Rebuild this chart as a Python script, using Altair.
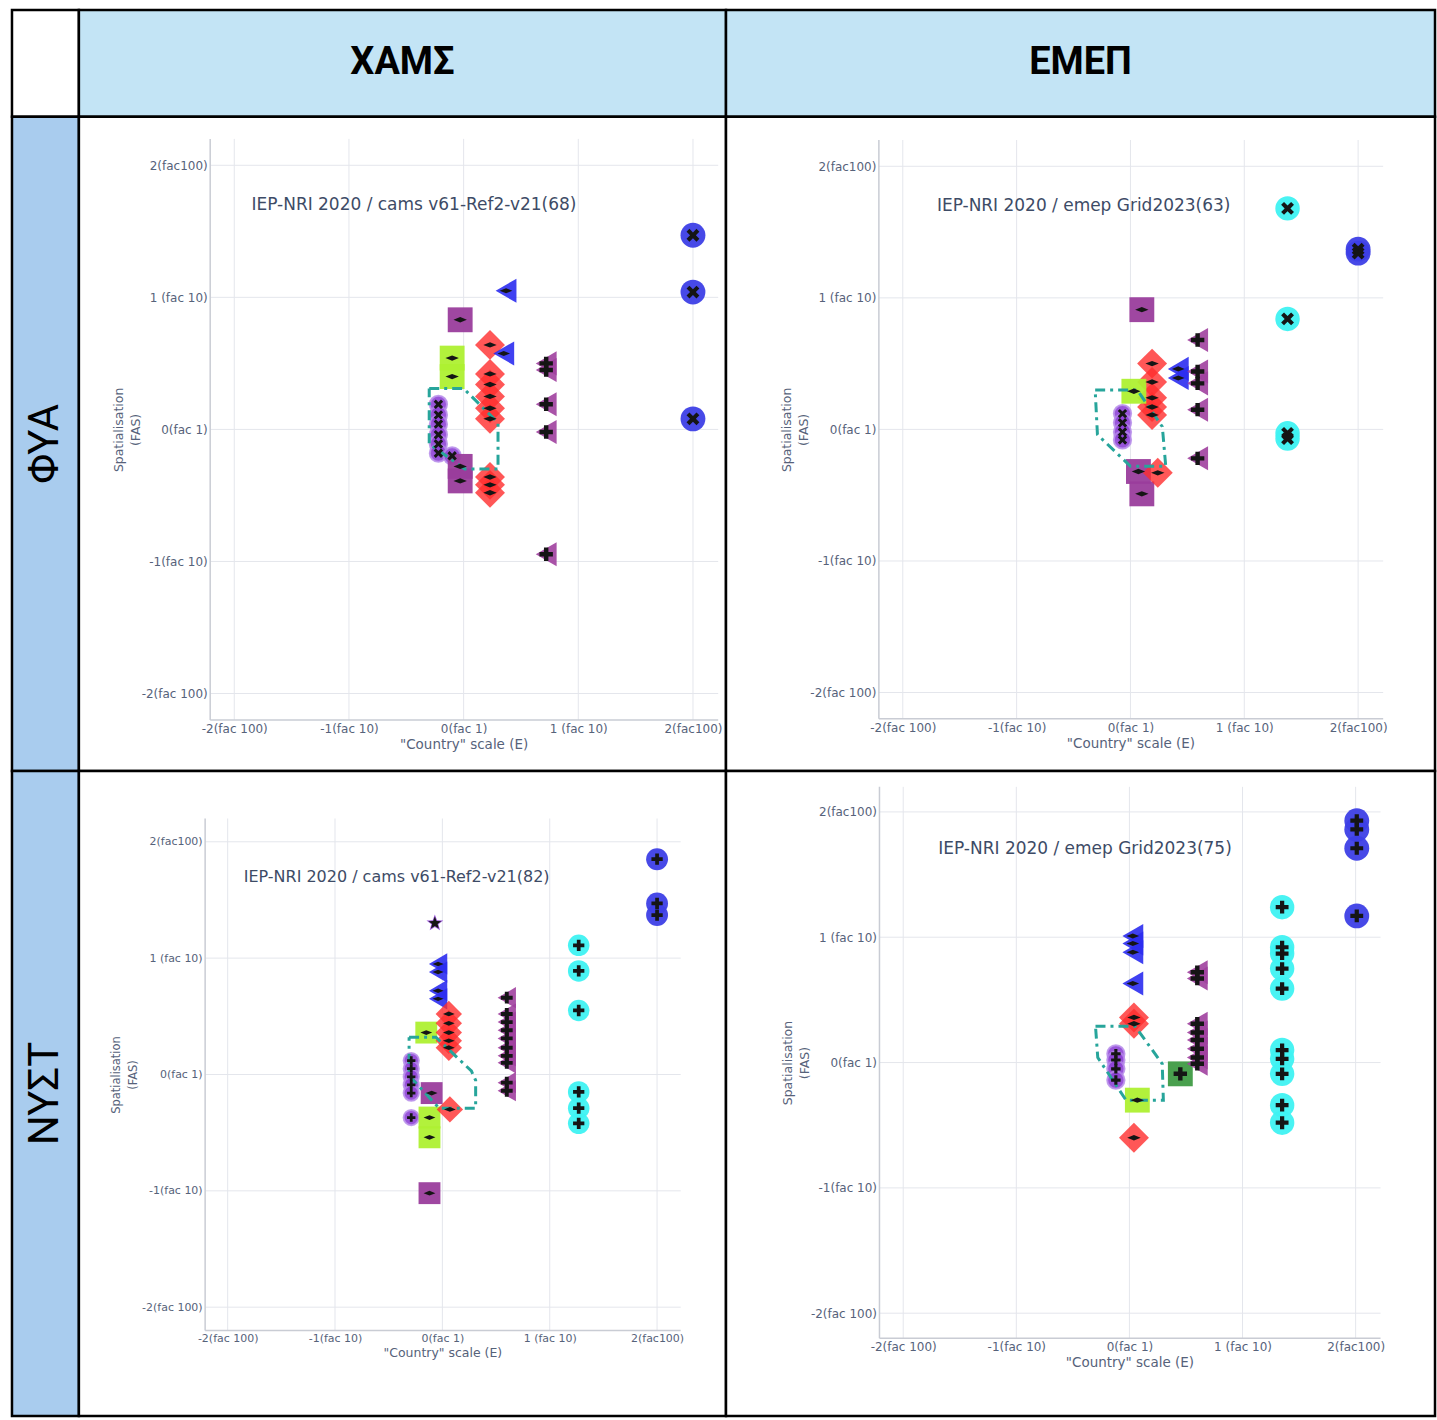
import json
import math
import altair as alt
import pandas as pd

# ------------------------------------------------------------------ data
col_headers = ["ΧΑΜΣ", "ΕΜΕΠ"]
row_headers = ["ΦΥΑ", "ΝΥΣΤ"]
panel_titles = [
    "IEP-NRI 2020 / cams v61-Ref2-v21(68)",
    "IEP-NRI 2020 / emep Grid2023(63)",
    "IEP-NRI 2020 / cams v61-Ref2-v21(82)",
    "IEP-NRI 2020 / emep Grid2023(75)",
]
tick_values = [-2, -1, 0, 1, 2]
tick_labels = ["-2(fac 100)", "-1(fac 10)", "0(fac 1)", "1 (fac 10)", "2(fac100)"]
x_title = '"Country" scale (E)'
y_title = ["Spatialisation", "(FAS)"]

# panel 1 : ΦΥΑ / ΧΑΜΣ
p1_purple_circle = [(-0.22, 0.19), (-0.22, 0.11), (-0.22, 0.04), (-0.22, -0.04), (-0.22, -0.11), (-0.22, -0.18), (-0.10, -0.20)]
p1_purple_square = [(-0.03, 0.83), (-0.03, -0.28), (-0.03, -0.39)]
p1_green_square = [(-0.10, 0.54), (-0.10, 0.40)]
p1_red_diamond = [(0.23, 0.64), (0.23, 0.42), (0.23, 0.34), (0.23, 0.25), (0.23, 0.16), (0.23, 0.08), (0.23, -0.36), (0.23, -0.42), (0.23, -0.48)]
p1_blue_triangle = [(0.37, 1.05), (0.35, 0.575)]
p1_purple_triangle = [(0.72, 0.50), (0.72, 0.45), (0.72, 0.19), (0.72, -0.02), (0.72, -0.945)]
p1_blue_circle = [(2.0, 1.47), (2.0, 1.04), (2.0, 0.08)]
p1_hull = [(-0.30, 0.31), (0.0, 0.31), (0.30, 0.05), (0.30, -0.30), (0.01, -0.30), (-0.30, -0.11), (-0.30, 0.31)]

# panel 2 : ΦΥΑ / ΕΜΕΠ
p2_purple_circle = [(-0.07, 0.12), (-0.07, 0.05), (-0.07, -0.02), (-0.07, -0.08)]
p2_purple_square = [(0.10, 0.91), (0.07, -0.32), (0.10, -0.49)]
p2_green_square = [(0.03, 0.29)]
p2_red_diamond = [(0.19, 0.50), (0.19, 0.36), (0.19, 0.24), (0.19, 0.17), (0.19, 0.11), (0.24, -0.33)]
p2_blue_triangle = [(0.42, 0.46), (0.42, 0.39)]
p2_purple_triangle = [(0.59, 0.68), (0.59, 0.44), (0.59, 0.35), (0.59, 0.15), (0.59, -0.22)]
p2_cyan_circle = [(1.38, 1.68), (1.38, 0.84), (1.38, -0.03), (1.38, -0.07)]
p2_blue_circle = [(2.0, 1.37), (2.0, 1.34)]
p2_hull = [(-0.31, 0.30), (0.06, 0.30), (0.28, 0.02), (0.31, -0.28), (0.0, -0.28), (-0.29, -0.04), (-0.31, 0.30)]

# panel 3 : ΝΥΣΤ / ΧΑΜΣ
p3_star = [(-0.07, 1.30)]
p3_blue_triangle = [(-0.04, 0.95), (-0.04, 0.88), (-0.04, 0.72), (-0.04, 0.65)]
p3_red_diamond = [(0.06, 0.52), (0.06, 0.44), (0.06, 0.36), (0.06, 0.29), (0.06, 0.23), (0.07, -0.30)]
p3_green_square = [(-0.15, 0.36), (-0.12, -0.37), (-0.12, -0.54)]
p3_purple_square = [(-0.10, -0.16), (-0.12, -1.02)]
p3_purple_circle = [(-0.29, 0.12), (-0.29, 0.05), (-0.29, -0.02), (-0.29, -0.09), (-0.29, -0.16), (-0.29, -0.37)]
p3_purple_triangle = [(0.60, 0.66), (0.60, 0.52), (0.60, 0.45), (0.60, 0.38), (0.60, 0.31), (0.60, 0.23), (0.60, 0.16), (0.60, 0.10), (0.60, -0.07), (0.60, -0.14)]
p3_cyan_circle = [(1.27, 1.11), (1.27, 0.89), (1.27, 0.55), (1.27, -0.15), (1.27, -0.29), (1.27, -0.42)]
p3_blue_circle = [(2.0, 1.85), (2.0, 1.47), (2.0, 1.37)]
p3_hull = [(-0.31, 0.32), (-0.06, 0.32), (0.27, 0.03), (0.31, -0.05), (0.31, -0.29), (-0.03, -0.29), (-0.31, -0.01), (-0.31, 0.32)]

# panel 4 : ΝΥΣΤ / ΕΜΕΠ
p4_blue_triangle = [(0.03, 1.01), (0.03, 0.95), (0.03, 0.88), (0.03, 0.63)]
p4_red_diamond = [(0.04, 0.36), (0.04, 0.31), (0.04, -0.60)]
p4_purple_circle = [(-0.12, 0.07), (-0.12, 0.02), (-0.12, -0.05), (-0.12, -0.14)]
p4_green_square = [(0.07, -0.30)]
p4_dark_green_square = [(0.45, -0.09)]
p4_purple_triangle = [(0.60, 0.72), (0.60, 0.67), (0.60, 0.31), (0.60, 0.24), (0.60, 0.18), (0.60, 0.11), (0.60, 0.04), (0.60, -0.01)]
p4_cyan_circle = [(1.35, 1.24), (1.35, 0.92), (1.35, 0.87), (1.35, 0.75), (1.35, 0.59), (1.35, 0.10), (1.35, 0.03), (1.35, -0.09), (1.35, -0.34), (1.35, -0.48)]
p4_blue_circle = [(2.01, 1.93), (2.01, 1.86), (2.01, 1.71), (2.01, 1.17)]
p4_hull = [(-0.30, 0.29), (0.05, 0.29), (0.29, -0.01), (0.30, -0.30), (-0.03, -0.30), (-0.28, 0.04), (-0.30, 0.29)]

# ------------------------------------------------------------------ style
FONT = "DejaVu Sans"
HFONT = "Roboto"
BORDER = dict(stroke="black", strokeWidth=2.5)

_star = []
for k in range(10):
    a = -math.pi / 2 + k * math.pi / 5
    r = 1.0 if k % 2 == 0 else 0.42
    _star.append(f"{r * math.cos(a):.3f},{r * math.sin(a):.3f}")
SHAPES = {
    "circle": "circle",
    "square": "square",
    "diamond": "diamond",
    "triangle-left": "triangle-left",
    "star": "M" + "L".join(_star) + "Z",
    "x": "M-1,-0.55L-0.55,-1L0,-0.45L0.55,-1L1,-0.55L0.45,0L1,0.55L0.55,1L0,0.45L-0.55,1L-1,0.55L-0.45,0Z",
    "cross": "M-0.33,-1L0.33,-1L0.33,-0.33L1,-0.33L1,0.33L0.33,0.33L0.33,1L-0.33,1L-0.33,0.33L-1,0.33L-1,-0.33L-0.33,-0.33Z",
    "wdiamond": "M-1,0L0,-0.4L1,0L0,0.4Z",
}

STYLE = {
    "purple_circle": dict(shape="circle", color="#8f43d6", size=300, opacity=0.9, inner="circ", isize=90,
                          stroke="#b588ea"),
    "purple_square": dict(shape="square", color="#9a3d9c", size=620, opacity=0.95, inner="wdiamond", isize=180),
    "green_square": dict(shape="square", color="#aef032", size=620, opacity=0.95, inner="wdiamond", isize=180),
    "dark_green_square": dict(shape="square", color="#3f9b45", size=620, opacity=0.95, inner="cross", isize=180),
    "red_diamond": dict(shape="diamond", color="#ff2d2d", size=900, opacity=0.8, inner="wdiamond", isize=180),
    "blue_triangle": dict(shape="triangle-left", color="#2b2cf0", size=580, opacity=0.9, inner="wdiamond", isize=160),
    "purple_triangle": dict(shape="triangle-left", color="#a0409e", size=580, opacity=0.9, inner="cross", isize=180),
    "cyan_circle": dict(shape="circle", color="#3ff2f2", size=600, opacity=0.95, inner="circ", isize=165),
    "blue_circle": dict(shape="circle", color="#3d3fe6", size=620, opacity=0.95, inner="circ", isize=165),
    "star": dict(shape="star", color="#9146d6", size=400, opacity=0.9, inner="star", isize=230),
}

PLOT_X = (-2.21, 2.22)
PLOT_Y = (-2.2, 2.2)

COL_W = [67, 648, 710]
ROW_H = [107, 655, 646]

LAYOUT = [
    dict(xdom=(-3.355, 2.288), ydom=(-2.586, 2.367), lfs=12, tfs=13.5, yfs=12.5, afs=17, tdy=29, lpad=4,
         ytx=-92, ann=(-1.85, 1.70), ms=1.0, circ="x"),
    dict(xdom=(-3.553, 2.763), ydom=(-2.596, 2.376), lfs=12, tfs=13.5, yfs=12.5, afs=17, tdy=29, lpad=4,
         ytx=-92, ann=(-1.70, 1.70), ms=1.0, circ="x"),
    dict(xdom=(-3.386, 2.642), ydom=(-3.004, 2.609), lfs=11, tfs=12.5, yfs=11.5, afs=16, tdy=26, lpad=2,
         ytx=-89, ann=(-1.85, 1.70), ms=0.88, circ="cross"),
    dict(xdom=(-3.567, 2.790), ydom=(-2.884, 2.327), lfs=12, tfs=13.5, yfs=12.5, afs=17, tdy=28, lpad=3,
         ytx=-92, ann=(-1.69, 1.70), ms=1.0, circ="cross"),
]

PANEL_SERIES = [
    [("purple_circle", p1_purple_circle), ("green_square", p1_green_square), ("purple_square", p1_purple_square),
     ("red_diamond", p1_red_diamond), ("blue_triangle", p1_blue_triangle), ("purple_triangle", p1_purple_triangle),
     ("blue_circle", p1_blue_circle)],
    [("purple_circle", p2_purple_circle), ("purple_square", p2_purple_square), ("red_diamond", p2_red_diamond),
     ("green_square", p2_green_square), ("blue_triangle", p2_blue_triangle), ("purple_triangle", p2_purple_triangle),
     ("cyan_circle", p2_cyan_circle), ("blue_circle", p2_blue_circle)],
    [("star", p3_star), ("blue_triangle", p3_blue_triangle), ("purple_circle", p3_purple_circle),
     ("purple_square", p3_purple_square), ("green_square", p3_green_square), ("red_diamond", p3_red_diamond),
     ("purple_triangle", p3_purple_triangle), ("cyan_circle", p3_cyan_circle), ("blue_circle", p3_blue_circle)],
    [("blue_triangle", p4_blue_triangle), ("purple_circle", p4_purple_circle), ("red_diamond", p4_red_diamond),
     ("green_square", p4_green_square), ("dark_green_square", p4_dark_green_square),
     ("purple_triangle", p4_purple_triangle), ("cyan_circle", p4_cyan_circle), ("blue_circle", p4_blue_circle)],
]
PANEL_HULLS = [p1_hull, p2_hull, p3_hull, p4_hull]

LABEL_EXPR = f"{json.dumps(tick_labels)}[indexof({json.dumps(tick_values)}, datum.value)]"


def make_panel(i, w, h):
    L = LAYOUT[i]
    xlo, xhi = L["xdom"]
    ylo, yhi = L["ydom"]
    # the measured cell size may differ slightly from w/h: keep the plot area's pixel placement
    xhi = xlo + (xhi - xlo) * w / (648 if i % 2 == 0 else 720)
    ylo = yhi - (yhi - ylo) * h / (655 if i < 2 else 654)

    def px_x(v):
        return (v - xlo) / (xhi - xlo) * w

    def px_y(v):
        return (yhi - v) / (yhi - ylo) * h

    common = dict(values=tick_values, labelExpr=LABEL_EXPR, grid=False, domain=False, ticks=False, tickSize=0,
                  labelFont=FONT, labelFontSize=L["lfs"], labelColor="#56627a", labelOverlap=False,
                  labelFlush=False, titleFont=FONT, titleFontWeight="normal", titleColor="#56627a")
    ax_x = alt.Axis(orient="bottom", offset=-(h - px_y(PLOT_Y[0])), labelPadding=L["lpad"], title=x_title,
                    titleX=px_x(0), titleY=L["tdy"], titleAlign="center", titleBaseline="alphabetic",
                    titleFontSize=L["tfs"], **common)
    ax_y = alt.Axis(orient="left", offset=-px_x(PLOT_X[0]), labelPadding=3, title=y_title,
                    titleX=L["ytx"], titleY=px_y(0), titleAngle=270, titleAlign="center", titleBaseline="middle",
                    titleLineHeight=17, titleFontSize=L["yfs"], **common)
    X = alt.X("x:Q", scale=alt.Scale(domain=[xlo, xhi], nice=False, zero=False), axis=ax_x)
    Y = alt.Y("y:Q", scale=alt.Scale(domain=[ylo, yhi], nice=False, zero=False), axis=ax_y)

    vgrid = pd.DataFrame({"x": tick_values, "y": [PLOT_Y[0]] * 5, "y2": [PLOT_Y[1]] * 5})
    hgrid = pd.DataFrame({"y": tick_values, "x": [PLOT_X[0]] * 5, "x2": [PLOT_X[1]] * 5})
    layers = [
        alt.Chart(vgrid).mark_rule(color="#e4e6ec", strokeWidth=1).encode(x=X, y=Y, y2="y2:Q"),
        alt.Chart(hgrid).mark_rule(color="#e4e6ec", strokeWidth=1).encode(y=Y, x=X, x2="x2:Q"),
        alt.Chart(pd.DataFrame({"x": [PLOT_X[0]], "y": [PLOT_Y[0]], "y2": [PLOT_Y[1]]}))
        .mark_rule(color="#c9ccd4", strokeWidth=1.5).encode(x=X, y=Y, y2="y2:Q"),
        alt.Chart(pd.DataFrame({"y": [PLOT_Y[0]], "x": [PLOT_X[0]], "x2": [PLOT_X[1]]}))
        .mark_rule(color="#c9ccd4", strokeWidth=1.5).encode(y=Y, x=X, x2="x2:Q"),
    ]
    ax_, ay_ = L["ann"]
    layers.append(
        alt.Chart(pd.DataFrame({"x": [ax_], "y": [ay_], "t": [panel_titles[i]]}))
        .mark_text(align="left", baseline="middle", font=FONT, fontSize=L["afs"], color="#3d4b66")
        .encode(x=X, y=Y, text="t:N")
    )
    ms = L["ms"]
    for name, pts in PANEL_SERIES[i]:
        s = STYLE[name]
        df = pd.DataFrame(pts, columns=["x", "y"])
        extra = {}
        if "stroke" in s:
            extra = dict(stroke=s["stroke"], strokeWidth=2, strokeOpacity=0.9)
        layers.append(
            alt.Chart(df).mark_point(filled=True, shape=SHAPES[s["shape"]], size=s["size"] * ms * ms,
                                     color=s["color"], opacity=s["opacity"], **extra).encode(x=X, y=Y)
        )
    hull = pd.DataFrame(PANEL_HULLS[i], columns=["x", "y"])
    hull["i"] = range(len(hull))
    layers.append(
        alt.Chart(hull).mark_line(color="#27a59b", strokeWidth=3, strokeDash=[10, 5, 3, 5])
        .encode(x=X, y=Y, order="i:Q")
    )
    for name, pts in PANEL_SERIES[i]:
        s = STYLE[name]
        inner = L["circ"] if s["inner"] == "circ" else s["inner"]
        df = pd.DataFrame(pts, columns=["x", "y"])
        layers.append(
            alt.Chart(df).mark_point(filled=True, shape=SHAPES[inner], size=s["isize"] * ms * ms,
                                     color="#151515", opacity=1).encode(x=X, y=Y)
        )
    return alt.layer(*layers).properties(
        width=w, height=h, view=alt.ViewBackground(fill="white", **BORDER)
    )


def text_cell(txt, w, h, fill, angle=0, weight="bold", size=38):
    df = pd.DataFrame({"t": [txt]})
    return alt.Chart(df).mark_text(
        font=HFONT, fontSize=size, fontWeight=weight, angle=angle, color="black",
        align="center", baseline="middle"
    ).encode(text="t:N").properties(width=w, height=h, view=alt.ViewBackground(fill=fill, **BORDER))


HEAD_FILL = "#c3e4f5"
ROW_FILL = "#a9ccee"

cells = [
    text_cell("", COL_W[0], ROW_H[0], "white"),
    text_cell(col_headers[0], COL_W[1], ROW_H[0], HEAD_FILL),
    text_cell(col_headers[1], COL_W[2], ROW_H[0], HEAD_FILL),
    text_cell(row_headers[0], COL_W[0], ROW_H[1], ROW_FILL, angle=270, weight="normal", size=42),
    make_panel(0, COL_W[1], ROW_H[1]),
    make_panel(1, COL_W[2], ROW_H[1]),
    text_cell(row_headers[1], COL_W[0], ROW_H[2], ROW_FILL, angle=270, weight="normal", size=42),
    make_panel(2, COL_W[1], ROW_H[2]),
    make_panel(3, COL_W[2], ROW_H[2]),
]

chart = alt.concat(*cells, columns=3, spacing=0, bounds="flush", align="each").properties(
    padding={"left": 10, "top": 7, "right": 0, "bottom": 0},
    background="white",
)

chart.save("out.html", embed_options={"renderer": "svg", "actions": False})
